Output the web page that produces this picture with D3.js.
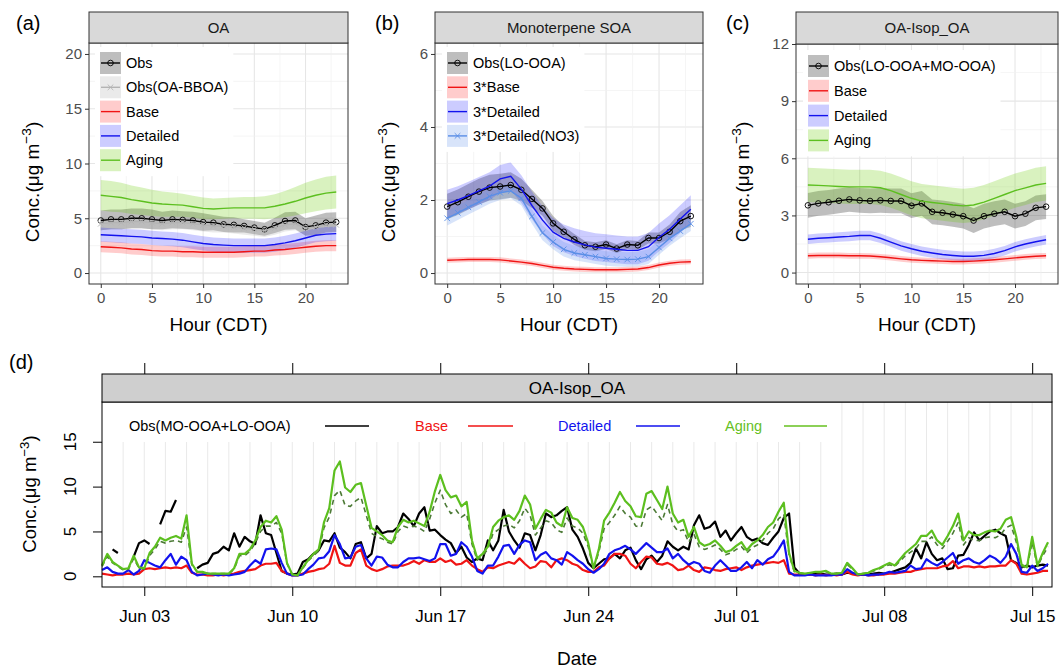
<!DOCTYPE html>
<html>
<head>
<meta charset="utf-8">
<script src="https://cdn.jsdelivr.net/npm/d3@7"></script>
<style>
  body { margin: 0; background: #fff; }
  text { font-family: "Liberation Sans", Arial, sans-serif; }
</style>
</head>
<body>
<svg id="chart" width="1064" height="670"></svg>
<script>
// ---------- hourly panels (a)-(c) ----------
const hours = [0,1,2,3,4,5,6,7,8,9,10,11,12,13,14,15,16,17,18,19,20,21,22,23];
const hourTicks = [0, 5, 10, 15, 20];
const hourMinor = [2.5, 7.5, 12.5, 17.5, 22.5];

// (a) OA
const aObs = [4.8,4.9,4.9,5.0,5.0,4.9,4.8,4.9,4.85,4.8,4.65,4.6,4.45,4.4,4.3,4.15,4.0,4.35,4.75,4.8,4.2,4.35,4.6,4.65];
const aObsSd = [0.9,0.9,0.9,0.9,0.9,0.9,0.8,0.8,0.8,0.8,0.8,0.7,0.7,0.7,0.6,0.6,0.6,0.7,0.8,0.8,0.8,0.9,0.9,0.9];
const aBboa = [4.5,4.6,4.6,4.7,4.7,4.6,4.5,4.6,4.6,4.5,4.4,4.3,4.3,4.2,4.1,4.0,3.9,4.1,4.4,4.5,4.1,4.2,4.4,4.4];
const aBase = [2.4,2.35,2.3,2.2,2.15,2.05,2.0,2.0,1.95,1.95,1.9,1.9,1.9,1.9,1.95,2.0,2.0,2.1,2.15,2.25,2.35,2.45,2.5,2.5];
const aDetailed = [3.5,3.45,3.4,3.35,3.3,3.2,3.15,3.1,3.0,2.85,2.7,2.6,2.55,2.5,2.5,2.5,2.5,2.6,2.75,2.95,3.2,3.45,3.55,3.6];
const aAging = [7.1,7.0,6.9,6.7,6.55,6.4,6.3,6.25,6.2,6.05,5.9,5.85,5.9,5.95,5.95,5.95,5.95,6.1,6.3,6.55,6.85,7.1,7.3,7.4];
const aAgingSd = [1.4,1.4,1.35,1.3,1.25,1.2,1.15,1.1,1.05,1.0,1.0,0.95,0.95,0.95,1.0,1.0,1.05,1.1,1.2,1.3,1.4,1.45,1.5,1.5];

// (b) Monoterpene SOA
const bObs = [1.82,1.94,2.09,2.23,2.34,2.37,2.41,2.28,2.03,1.77,1.36,1.13,0.92,0.76,0.72,0.78,0.67,0.78,0.76,0.96,0.96,1.13,1.42,1.56];
const bObsSd = [0.35,0.35,0.35,0.35,0.35,0.35,0.35,0.3,0.25,0.2,0.2,0.15,0.15,0.12,0.12,0.12,0.12,0.12,0.12,0.15,0.15,0.2,0.25,0.3];
const bBase = [0.35,0.36,0.37,0.37,0.37,0.36,0.33,0.3,0.26,0.21,0.16,0.13,0.11,0.1,0.09,0.09,0.09,0.1,0.11,0.15,0.22,0.27,0.3,0.31];
const bDetailed = [1.9,2.0,2.12,2.25,2.38,2.58,2.65,2.3,1.85,1.45,1.12,0.95,0.85,0.77,0.71,0.68,0.65,0.62,0.62,0.72,0.98,1.2,1.48,1.75];
const bNO3 = [1.5,1.65,1.8,1.95,2.1,2.2,2.25,2.05,1.55,1.1,0.85,0.65,0.55,0.5,0.45,0.4,0.38,0.37,0.38,0.45,0.7,0.95,1.15,1.35];

// (c) OA-Isop_OA
const cObs = [3.53,3.63,3.69,3.77,3.84,3.79,3.76,3.79,3.76,3.76,3.51,3.63,3.19,3.14,3.05,2.96,2.73,2.96,3.09,3.19,2.96,3.09,3.4,3.46];
const cBase = [0.88,0.9,0.9,0.9,0.88,0.88,0.87,0.83,0.78,0.72,0.67,0.64,0.62,0.6,0.58,0.58,0.6,0.63,0.67,0.72,0.77,0.82,0.86,0.88];
const cDetailed = [1.75,1.8,1.83,1.87,1.9,1.95,1.95,1.8,1.6,1.4,1.25,1.12,1.03,0.95,0.9,0.86,0.86,0.9,1.0,1.15,1.35,1.5,1.62,1.72];
const cAging = [4.6,4.58,4.55,4.52,4.5,4.5,4.5,4.45,4.3,4.1,3.9,3.75,3.68,3.62,3.55,3.5,3.55,3.7,3.9,4.1,4.3,4.45,4.6,4.68];

// ---------- time series panel (d), 6-hourly from Jun 01 00:00 ----------
const dObs = [
  null,null,3.0,2.6,  null,null,2.2,3.7,  4.0,3.6,null,5.8,  7.3,7.2,8.5,null,  null,null,0.9,1.3,
  1.5,2.5,2.7,3.3,  2.9,4.8,3.3,4.4,  3.9,3.6,6.8,4.8,  4.6,2.6,0.6,0.3,  0.2,0.3,1.6,1.9,
  2.5,2.9,4.0,3.9,  4.8,3.2,2.7,2.0,  3.6,3.8,2.0,2.5,  5.6,4.8,5.0,5.0,  5.5,7.0,6.4,5.6,
  7.0,7.7,5.1,5.2,  4.6,4.1,3.7,2.6,  3.3,2.1,1.6,2.0,  1.8,4.0,2.9,4.0,  7.4,5.0,4.0,3.2,
  4.8,4.6,2.9,4.6,  7.0,6.6,6.8,7.3,  7.7,5.2,4.4,3.1,  1.5,0.9,1.4,1.9,  2.0,2.5,2.0,2.9,
  3.2,1.8,0.8,1.9,  2.3,1.6,2.3,3.9,  3.3,2.9,3.3,3.0,  5.7,6.8,5.3,5.5,  6.1,4.4,5.1,4.0,
  4.8,5.5,4.4,4.0,  4.2,3.7,3.5,4.3,  5.0,6.5,7.0,1.0,  0.3,0.2,0.2,0.3,  0.3,0.2,0.2,0.3,
  0.2,0.4,0.3,0.2,  0.2,0.2,0.3,0.4,  0.3,0.4,0.6,0.8,  1.0,1.5,3.1,2.0,  3.8,2.5,1.8,2.0,
  0.8,0.9,2.3,2.4,  3.5,4.9,4.0,4.5,  5.0,5.2,4.8,4.5,  1.8,1.5,1.0,1.2,  1.0,1.2,1.3,1.2
];
const dBase = [
  0.3,0.2,0.1,0.2,  0.2,0.3,0.2,0.3,  0.8,0.9,0.8,0.9,  1.0,0.9,1.0,0.9,  1.2,0.4,0.2,0.2,
  0.1,0.1,0.2,0.1,  0.2,0.3,0.5,0.6,  0.7,0.8,1.2,1.4,  1.4,1.5,0.6,0.3,  0.1,0.1,0.3,0.5,
  0.6,0.8,0.9,1.4,  3.4,1.5,1.2,1.2,  2.6,3.0,1.2,0.8,  0.6,0.8,1.1,1.2,  1.2,1.2,1.4,1.7,
  1.4,1.8,1.6,1.6,  2.0,1.6,1.8,1.3,  1.4,1.8,1.2,0.8,  0.5,1.0,0.9,1.2,  1.4,1.6,1.4,2.0,
  1.4,0.9,1.1,1.7,  1.6,1.0,1.8,2.0,  1.8,1.4,1.2,0.7,  0.5,0.5,1.0,1.2,  2.0,2.5,2.5,2.3,
  1.4,0.9,1.6,2.2,  2.1,1.4,1.3,1.5,  1.2,0.7,0.8,1.2,  0.7,0.5,1.0,0.9,  0.7,0.6,0.8,0.9,
  1.0,0.7,1.0,1.2,  1.3,1.4,1.5,1.6,  1.5,1.8,0.3,0.2,  0.2,0.2,0.2,0.1,  0.2,0.1,0.2,0.1,
  0.2,0.5,0.2,0.1,  0.2,0.1,0.1,0.2,  0.2,0.3,0.3,0.4,  0.5,0.5,0.7,0.8,  0.9,0.9,0.9,1.1,
  1.2,1.7,0.9,1.1,  1.1,1.0,1.1,1.0,  1.1,1.1,1.2,1.2,  1.8,1.4,0.3,0.2,  0.3,0.4,0.6,0.6
];
const dDetailed = [
  0.7,1.0,0.5,0.3,  0.3,0.7,0.2,0.6,  1.8,1.5,1.2,1.0,  1.8,2.5,1.3,2.2,  1.8,0.5,0.1,0.2,
  0.3,0.2,0.1,0.2,  0.1,0.2,0.3,0.5,  1.2,1.8,1.4,3.0,  3.1,3.0,1.5,0.3,  0.1,0.1,0.2,0.8,
  1.3,2.0,2.1,2.8,  4.6,3.6,2.0,2.1,  3.3,3.5,2.0,1.2,  2.2,2.1,1.3,1.0,  1.0,1.6,2.0,2.0,
  2.1,1.9,1.7,2.0,  3.6,3.6,2.3,2.5,  3.8,3.3,2.2,0.6,  0.3,1.2,1.2,2.2,  3.4,3.5,2.5,3.5,
  4.0,3.8,1.8,2.4,  2.7,2.0,1.8,1.3,  2.7,2.3,1.8,1.4,  0.8,0.4,0.8,1.4,  2.5,2.9,3.1,3.4,
  3.0,2.5,3.1,3.7,  3.2,2.7,2.7,3.1,  2.0,2.5,1.8,1.3,  1.6,1.4,0.6,0.4,  1.2,1.8,1.2,0.6,
  0.6,1.0,1.6,0.9,  1.8,1.3,1.9,2.2,  3.0,4.0,0.5,0.1,  0.1,0.1,0.2,0.1,  0.1,0.1,0.1,0.2,
  0.2,0.8,0.4,0.2,  0.2,0.1,0.2,0.2,  0.3,0.5,0.4,0.5,  0.6,1.2,0.8,0.9,  1.9,1.5,1.2,1.6,
  2.1,2.6,1.4,1.8,  2.0,1.6,1.4,1.8,  2.3,2.0,1.5,2.2,  3.6,2.5,0.5,0.4,  1.2,0.6,0.9,1.4
];
const dAging = [
  1.2,2.5,1.6,1.2,  0.8,0.9,2.3,1.0,  0.9,2.6,3.3,4.3,  4.0,4.3,4.5,4.2,  6.8,1.4,0.5,0.5,
  0.3,0.3,0.3,0.3,  0.3,0.9,2.5,2.5,  3.0,4.0,5.5,6.2,  6.0,6.7,5.2,1.5,  0.2,0.1,1.0,1.8,
  2.5,3.0,6.0,7.6,  11.8,12.8,9.9,9.4,  10.2,10.4,7.9,5.4,  5.0,4.6,4.0,3.8,  5.5,6.3,6.0,6.2,
  5.9,5.6,7.2,9.5,  11.3,9.6,8.8,9.0,  7.8,8.3,4.0,2.0,  2.5,3.3,5.5,6.2,  6.6,6.8,6.3,7.3,
  9.0,8.0,5.3,6.4,  7.4,7.1,6.0,5.6,  7.7,6.5,6.3,5.5,  3.7,0.9,3.0,6.2,  7.1,8.2,9.4,8.4,
  7.8,6.7,6.6,9.2,  9.5,8.5,7.5,10.0,  7.0,6.0,6.3,4.4,  5.5,3.8,3.4,3.6,  4.0,3.4,2.7,2.9,
  3.4,3.8,2.9,3.6,  4.0,4.6,5.5,6.0,  7.2,8.2,2.6,0.6,  0.4,0.3,0.4,0.5,  0.5,0.6,0.3,0.3,
  0.4,1.5,0.9,0.2,  0.3,0.4,0.7,0.9,  1.2,1.5,1.2,1.9,  2.6,3.1,3.6,4.5,  4.5,5.1,4.0,3.5,
  4.5,5.6,7.0,4.0,  5.0,4.6,4.6,4.9,  5.1,5.0,5.3,6.3,  6.6,4.4,1.3,1.0,  4.4,1.2,2.6,3.8
];
const dAgingAlt = [
  1.1,2.2,1.5,1.1,  0.7,0.8,2.0,0.9,  0.8,2.3,3.0,3.9,  3.7,3.9,4.0,3.8,  5.5,1.3,0.5,0.4,
  0.3,0.3,0.3,0.3,  0.3,0.8,2.3,2.3,  2.8,3.7,5.0,5.6,  5.6,6.0,4.8,1.4,  0.2,0.1,0.9,1.7,
  2.3,2.8,5.4,6.6,  9.0,9.6,7.9,7.8,  8.4,8.8,6.8,4.8,  4.4,4.2,3.8,3.6,  5.0,5.6,5.4,5.6,
  5.4,5.0,6.4,8.2,  9.6,8.0,7.0,7.4,  6.6,7.0,3.6,1.8,  2.3,3.0,4.8,5.2,  5.6,5.8,5.4,6.2,
  7.6,6.8,4.6,5.4,  6.2,6.0,5.2,4.9,  6.5,5.6,5.4,4.8,  3.3,0.8,2.7,5.3,  6.0,6.8,7.8,7.0,
  6.6,5.6,5.5,7.4,  7.8,7.0,6.2,8.0,  5.8,5.0,5.2,3.8,  4.7,3.3,3.0,3.2,  3.5,3.0,2.4,2.6,
  3.0,3.3,2.6,3.2,  3.5,4.0,4.8,5.3,  6.4,6.9,2.4,0.5,  0.3,0.3,0.4,0.4,  0.4,0.5,0.3,0.3,
  0.4,1.3,0.8,0.2,  0.3,0.4,0.6,0.8,  1.1,1.3,1.1,1.7,  2.3,2.7,3.1,3.9,  3.9,4.4,3.5,3.1,
  3.9,4.8,6.0,3.5,  4.3,4.0,4.0,4.3,  4.4,4.3,4.6,5.4,  5.7,3.8,1.1,0.9,  3.8,1.1,2.3,3.3
];
const dTickLabels = ["Jun 03", "Jun 10", "Jun 17", "Jun 24", "Jul 01", "Jul 08", "Jul 15"];
const dYTicks = [0, 5, 10, 15];

const RED = "#f01414", BLUE = "#1212ee", GREEN = "#5cbf1f";

const svg = d3.select("#chart");

// y title with superscript
function yTitle(cx, cy, size) {
  const t = svg.append("text")
    .attr("transform", `translate(${cx + size * 0.35},${cy}) rotate(-90)`)
    .attr("text-anchor", "middle")
    .attr("font-size", size)
    .attr("fill", "#000");
  t.append("tspan").text("Conc.(μg m");
  t.append("tspan").attr("dy", -size * 0.42).attr("font-size", size * 0.72).text("−3");
  t.append("tspan").attr("dy", size * 0.42).text(")");
}

function hourPanel(p) {
  const x = d3.scaleLinear().domain([-1.15, 24.15]).range([p.left, p.right]);
  const y = d3.scaleLinear().domain(p.yDomain).range([p.bottom, p.top]);
  const g = svg.append("g");

  // grid (minor lighter, major)
  g.selectAll("line.xmin").data(hourMinor).join("line")
    .attr("x1", d => x(d)).attr("x2", d => x(d)).attr("y1", p.top).attr("y2", p.bottom)
    .attr("stroke", "#f1f1f1").attr("stroke-width", 0.7);
  g.selectAll("line.ymin").data(p.yMinor).join("line")
    .attr("x1", p.left).attr("x2", p.right).attr("y1", d => y(d)).attr("y2", d => y(d))
    .attr("stroke", "#f1f1f1").attr("stroke-width", 0.7);
  g.selectAll("line.xmaj").data(hourTicks).join("line")
    .attr("x1", d => x(d)).attr("x2", d => x(d)).attr("y1", p.top).attr("y2", p.bottom)
    .attr("stroke", "#e6e6e6").attr("stroke-width", 1.1);
  g.selectAll("line.ymaj").data(p.yTicks).join("line")
    .attr("x1", p.left).attr("x2", p.right).attr("y1", d => y(d)).attr("y2", d => y(d))
    .attr("stroke", "#e6e6e6").attr("stroke-width", 1.1);

  // ribbons
  p.series.forEach(s => {
    const sd = i => (Array.isArray(s.sd) ? s.sd[i] : s.sd);
    const area = d3.area()
      .x((d, i) => x(hours[i]))
      .y0((d, i) => y(d - sd(i)))
      .y1((d, i) => y(d + sd(i)));
    g.append("path").datum(s.values).attr("d", area)
      .attr("fill", s.band).attr("fill-opacity", s.bandOpacity);
  });

  // lines and markers
  p.series.forEach(s => {
    const line = d3.line().x((d, i) => x(hours[i])).y(d => y(d));
    g.append("path").datum(s.values).attr("d", line)
      .attr("fill", "none").attr("stroke", s.color).attr("stroke-width", 1.4);
    if (s.marker === "circle") {
      g.selectAll(null).data(s.values).join("circle")
        .attr("cx", (d, i) => x(hours[i])).attr("cy", d => y(d)).attr("r", 2.8)
        .attr("fill", "none").attr("stroke", s.color).attr("stroke-width", 0.9);
    } else if (s.marker === "x") {
      g.selectAll(null).data(s.values).join("path")
        .attr("d", (d, i) => {
          const cx = x(hours[i]), cy = y(d), r = 2.8;
          return `M${cx - r},${cy - r}L${cx + r},${cy + r}M${cx - r},${cy + r}L${cx + r},${cy - r}`;
        })
        .attr("stroke", s.color).attr("stroke-width", 0.9);
    }
  });

  // legend
  const lg = g.append("g");
  const bg = lg.append("rect").attr("fill", "#fff");
  const keyW = 21, keyH = 22;
  let maxW = 0;
  p.series.forEach((s, i) => {
    const cy = p.legend.y + i * p.legend.step;
    const kx = p.legend.x;
    lg.append("rect").attr("x", kx).attr("y", cy - keyH / 2).attr("width", keyW).attr("height", keyH)
      .attr("fill", s.band).attr("fill-opacity", s.bandOpacity);
    lg.append("line").attr("x1", kx + 1).attr("x2", kx + keyW - 1).attr("y1", cy).attr("y2", cy)
      .attr("stroke", s.color).attr("stroke-width", 1.4);
    if (s.marker === "circle") {
      lg.append("circle").attr("cx", kx + keyW / 2).attr("cy", cy).attr("r", 2.8)
        .attr("fill", "none").attr("stroke", s.color).attr("stroke-width", 0.9);
    } else if (s.marker === "x") {
      const cx = kx + keyW / 2, r = 2.8;
      lg.append("path").attr("d", `M${cx - r},${cy - r}L${cx + r},${cy + r}M${cx - r},${cy + r}L${cx + r},${cy - r}`)
        .attr("stroke", s.color).attr("stroke-width", 0.9);
    }
    const t = lg.append("text").attr("x", kx + keyW + 5).attr("y", cy).attr("dy", "0.35em")
      .attr("font-size", 14.5).attr("fill", "#000").text(s.name);
    maxW = Math.max(maxW, t.node().getComputedTextLength());
  });
  bg.attr("x", p.legend.x - 5).attr("y", p.legend.y - keyH / 2 - 5)
    .attr("width", keyW + 5 + maxW + 10)
    .attr("height", (p.series.length - 1) * p.legend.step + keyH + 10);
  lg.lower();
  g.selectAll("line").filter(function () { return this.parentNode === g.node(); }).lower();

  // panel border
  g.append("rect").attr("x", p.left).attr("y", p.top).attr("width", p.right - p.left)
    .attr("height", p.bottom - p.top).attr("fill", "none").attr("stroke", "#333").attr("stroke-width", 1);

  // strip
  g.append("rect").attr("x", p.left).attr("y", p.stripTop).attr("width", p.right - p.left)
    .attr("height", p.top - p.stripTop).attr("fill", "#d9d9d9").attr("stroke", "#333").attr("stroke-width", 1);
  g.append("text").attr("x", (p.left + p.right) / 2).attr("y", (p.stripTop + p.top) / 2).attr("dy", "0.35em")
    .attr("text-anchor", "middle").attr("font-size", 15).attr("fill", "#1a1a1a").text(p.title);

  // axes
  const xa = g.append("g").attr("transform", `translate(0,${p.bottom})`)
    .call(d3.axisBottom(x).tickValues(hourTicks).tickSize(4).tickPadding(4).tickFormat(d3.format("~g")));
  const ya = g.append("g").attr("transform", `translate(${p.left},0)`)
    .call(d3.axisLeft(y).tickValues(p.yTicks).tickSize(4).tickPadding(3).tickFormat(d3.format("~g")));
  [xa, ya].forEach(a => {
    a.select(".domain").remove();
    a.selectAll("line").attr("stroke", "#333");
    a.selectAll("text").attr("font-size", 15).attr("fill", "#4d4d4d")
      .attr("font-family", "'Liberation Sans', Arial, sans-serif");
  });

  // titles
  svg.append("text").attr("x", (p.left + p.right) / 2).attr("y", 331)
    .attr("text-anchor", "middle").attr("font-size", 19).text("Hour (CDT)");
  yTitle(p.yTitleX, 182, 19);
  svg.append("text").attr("x", p.labelX).attr("y", 30).attr("font-size", 20).text(p.label);
}

hourPanel({
  label: "(a)", labelX: 16, title: "OA", yTitleX: 32,
  left: 89, right: 348, stripTop: 12, top: 43, bottom: 284,
  yDomain: [-1, 21], yTicks: [0, 5, 10, 15, 20], yMinor: [2.5, 7.5, 12.5, 17.5],
  legend: { x: 100, y: 63, step: 24.3 },
  series: [
    { name: "Obs", values: aObs, sd: aObsSd, color: "#000", band: "#444", bandOpacity: 0.35, marker: "circle" },
    { name: "Obs(OA-BBOA)", values: aBboa, sd: 0.6, color: "#b4b4b4", band: "#bbb", bandOpacity: 0.3, marker: "x" },
    { name: "Base", values: aBase, sd: 0.5, color: RED, band: "#ff0000", bandOpacity: 0.2 },
    { name: "Detailed", values: aDetailed, sd: 0.65, color: BLUE, band: "#0000ff", bandOpacity: 0.2 },
    { name: "Aging", values: aAging, sd: aAgingSd, color: GREEN, band: "#66cc00", bandOpacity: 0.25 }
  ]
});

hourPanel({
  label: "(b)", labelX: 375, title: "Monoterpene SOA", yTitleX: 388,
  left: 435, right: 703, stripTop: 12, top: 43, bottom: 284,
  yDomain: [-0.3, 6.3], yTicks: [0, 2, 4, 6], yMinor: [1, 3, 5],
  legend: { x: 447, y: 63, step: 24.3 },
  series: [
    { name: "Obs(LO-OOA)", values: bObs, sd: bObsSd, color: "#000", band: "#444", bandOpacity: 0.35, marker: "circle" },
    { name: "3*Base", values: bBase, sd: 0.07, color: RED, band: "#ff0000", bandOpacity: 0.2 },
    { name: "3*Detailed", values: bDetailed, sd: 0.38, color: BLUE, band: "#0000ff", bandOpacity: 0.2 },
    { name: "3*Detailed(NO3)", values: bNO3, sd: 0.2, color: "#5a8ee6", band: "#6495ed", bandOpacity: 0.25, marker: "x" }
  ]
});

hourPanel({
  label: "(c)", labelX: 726, title: "OA-Isop_OA", yTitleX: 742,
  left: 796, right: 1058, stripTop: 12, top: 44, bottom: 284,
  yDomain: [-0.6, 12], yTicks: [0, 3, 6, 9, 12], yMinor: [1.5, 4.5, 7.5, 10.5],
  legend: { x: 808, y: 66, step: 24.8 },
  series: [
    { name: "Obs(LO-OOA+MO-OOA)", values: cObs, sd: 0.65, color: "#000", band: "#444", bandOpacity: 0.35, marker: "circle" },
    { name: "Base", values: cBase, sd: 0.15, color: RED, band: "#ff0000", bandOpacity: 0.2 },
    { name: "Detailed", values: cDetailed, sd: 0.25, color: BLUE, band: "#0000ff", bandOpacity: 0.2 },
    { name: "Aging", values: cAging, sd: 0.9, color: GREEN, band: "#66cc00", bandOpacity: 0.25 }
  ]
});

// ---------- panel (d) ----------
const dL = 102, dR = 1052, dStripTop = 374, dTop = 402, dBottom = 587;
const dStart = Date.UTC(2013, 5, 1);
const dTimes = dObs.map((v, i) => new Date(dStart + i * 6 * 3600e3));
const xd = d3.scaleUtc().domain([new Date(dStart), new Date(Date.UTC(2013, 6, 15, 22, 30))]).range([dL, dR]);
const yd = d3.scaleLinear().domain([-1.19, 19.43]).range([dBottom, dTop]);
const gd = svg.append("g");

// daily grid lines
gd.selectAll("line.grid").data(d3.utcDay.range(new Date(dStart + 86400e3), xd.domain()[1])).join("line")
  .attr("x1", d => xd(d)).attr("x2", d => xd(d)).attr("y1", dTop).attr("y2", dBottom)
  .attr("stroke", "#e9e9e9").attr("stroke-width", 1);

// legend background
gd.append("rect").attr("x", dL + 1).attr("y", dTop).attr("width", 838 - dL).attr("height", 40).attr("fill", "#fff");

const dSeries = [
  { values: dObs, color: "#000", width: 2.2 },
  { values: dBase, color: RED, width: 2.2 },
  { values: dDetailed, color: BLUE, width: 2.2 },
  { values: dAgingAlt, color: "#4c7a36", width: 1.6, dash: "5,4" },
  { values: dAging, color: GREEN, width: 2.2 }
];
dSeries.forEach(s => {
  const line = d3.line().defined(d => d != null)
    .x((d, i) => xd(dTimes[i])).y(d => yd(d));
  gd.append("path").datum(s.values).attr("d", line)
    .attr("fill", "none").attr("stroke", s.color).attr("stroke-width", s.width)
    .attr("stroke-linejoin", "round").attr("stroke-dasharray", s.dash || null);
});

// legend row
const dLegend = [
  { name: "Obs(MO-OOA+LO-OOA)", color: "#000", tx: 129, l1: 325, l2: 369 },
  { name: "Base", color: RED, tx: 415, l1: 468, l2: 513 },
  { name: "Detailed", color: BLUE, tx: 558, l1: 636, l2: 680 },
  { name: "Aging", color: "#66c01f", tx: 725, l1: 784, l2: 827 }
];
dLegend.forEach(k => {
  gd.append("text").attr("x", k.tx).attr("y", 426).attr("dy", "0.35em").attr("font-size", 14.5)
    .attr("fill", k.color).text(k.name);
  gd.append("line").attr("x1", k.l1).attr("x2", k.l2).attr("y1", 426).attr("y2", 426)
    .attr("stroke", k.color).attr("stroke-width", 1.3);
});

// frame and strip
gd.append("rect").attr("x", dL).attr("y", dTop).attr("width", dR - dL).attr("height", dBottom - dTop)
  .attr("fill", "none").attr("stroke", "#000").attr("stroke-width", 1);
gd.append("rect").attr("x", dL).attr("y", dStripTop).attr("width", dR - dL).attr("height", dTop - dStripTop)
  .attr("fill", "#cfcfcf").attr("stroke", "#000").attr("stroke-width", 1);
gd.append("text").attr("x", (dL + dR) / 2).attr("y", (dStripTop + dTop) / 2).attr("dy", "0.35em")
  .attr("text-anchor", "middle").attr("font-size", 17).text("OA-Isop_OA");

// axes
const dTickDates = dTickLabels.map(s => d3.utcParse("%b %d %Y")(s + " 2013"));
const xAxisD = gd.append("g").attr("transform", `translate(0,${dBottom})`)
  .call(d3.axisBottom(xd).tickValues(dTickDates).tickSize(9).tickPadding(14).tickFormat(d3.utcFormat("%b %d")));
const xTopD = gd.append("g").attr("transform", `translate(0,${dStripTop})`)
  .call(d3.axisTop(xd).tickValues(dTickDates).tickSize(11).tickFormat(""));
const yAxisD = gd.append("g").attr("transform", `translate(${dL},0)`)
  .call(d3.axisLeft(yd).tickValues(dYTicks).tickSize(9).tickFormat(""));
[xAxisD, xTopD, yAxisD].forEach(a => {
  a.select(".domain").remove();
  a.selectAll("line").attr("stroke", "#000");
  a.selectAll("text").attr("font-size", 17).attr("fill", "#000")
    .attr("font-family", "'Liberation Sans', Arial, sans-serif");
});
// rotated y tick labels
const yLab = gd.selectAll("g.ylab").data(dYTicks).join("g")
  .attr("class", "ylab")
  .attr("transform", d => `translate(70,${yd(d)})`);
yLab.append("text")
  .attr("transform", "rotate(-90)")
  .attr("dy", "0.35em")
  .attr("text-anchor", "middle").attr("font-size", 17).attr("fill", "#000")
  .text(d => d);

svg.append("text").attr("x", 577).attr("y", 665).attr("text-anchor", "middle").attr("font-size", 19).text("Date");
yTitle(30, 494, 18.5);
svg.append("text").attr("x", 9).attr("y", 369).attr("font-size", 20).text("(d)");
</script>
</body>
</html>
